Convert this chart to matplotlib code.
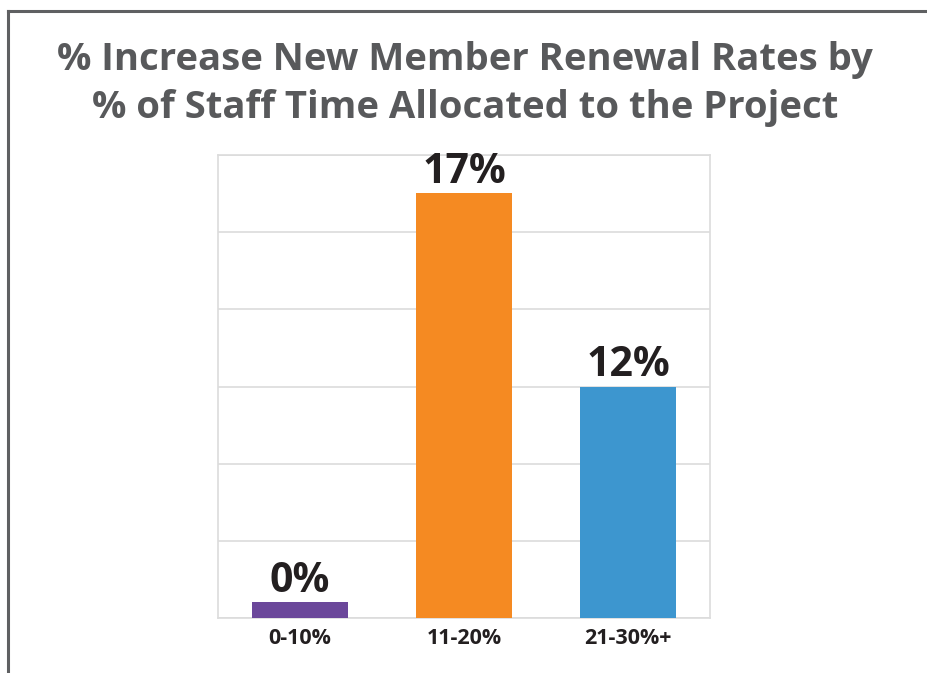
import matplotlib.pyplot as plt
from matplotlib.lines import Line2D

# data (bar heights in the chart's own grid units)
categories = ['0-10%', '11-20%', '21-30%+']
bar_heights = [0.21, 5.51, 3.0]
value_labels = ['0%', '17%', '12%']
colors = ['#6b479a', '#f58a22', '#3d96cf']

title = '% Increase New Member Renewal Rates by\n% of Staff Time Allocated to the Project'

plt.rcParams['font.family'] = ['Open Sans', 'DejaVu Sans']

fig = plt.figure(figsize=(9.28, 6.73), dpi=100)

# outer frame: only left and top edges are visible
fig.add_artist(Line2D([8 / 928, 8 / 928], [0, 1 - 11 / 673], transform=fig.transFigure,
                      color='#5f6062', lw=2.2))
fig.add_artist(Line2D([8 / 928, 1], [1 - 11 / 673, 1 - 11 / 673], transform=fig.transFigure,
                      color='#5f6062', lw=2.2))

fig.text(0.501, 1 - 84 / 673, title, ha='center', va='center', fontsize=27.5,
         fontweight='bold', color='#58595b', linespacing=1.36)

ax = fig.add_axes([218 / 928, 1 - 618 / 673, 492 / 928, 463 / 673])
x = range(len(categories))
bars = ax.bar(x, bar_heights, width=0.59, color=colors, zorder=3)

for b, lab in zip(bars, value_labels):
    ax.text(b.get_x() + b.get_width() / 2, b.get_height() + 0.0, lab,
            ha='center', va='bottom', fontsize=29.5, fontweight='bold', color='#231f20')

ax.set_xlim(-0.5, 2.5)
ax.set_ylim(0, 6)
ax.set_yticks(range(7))
ax.set_yticklabels([])
ax.tick_params(axis='y', length=0)
ax.set_xticks(list(x))
ax.set_xticklabels(categories, fontsize=15.5, fontweight='bold', color='#231f20')
ax.tick_params(axis='x', length=0, pad=7)
ax.grid(axis='y', color='#dcdcdc', lw=1.2, zorder=0)
for s in ax.spines.values():
    s.set_color('#dcdcdc')
    s.set_linewidth(1.2)

fig.savefig('out.png', dpi=100)
